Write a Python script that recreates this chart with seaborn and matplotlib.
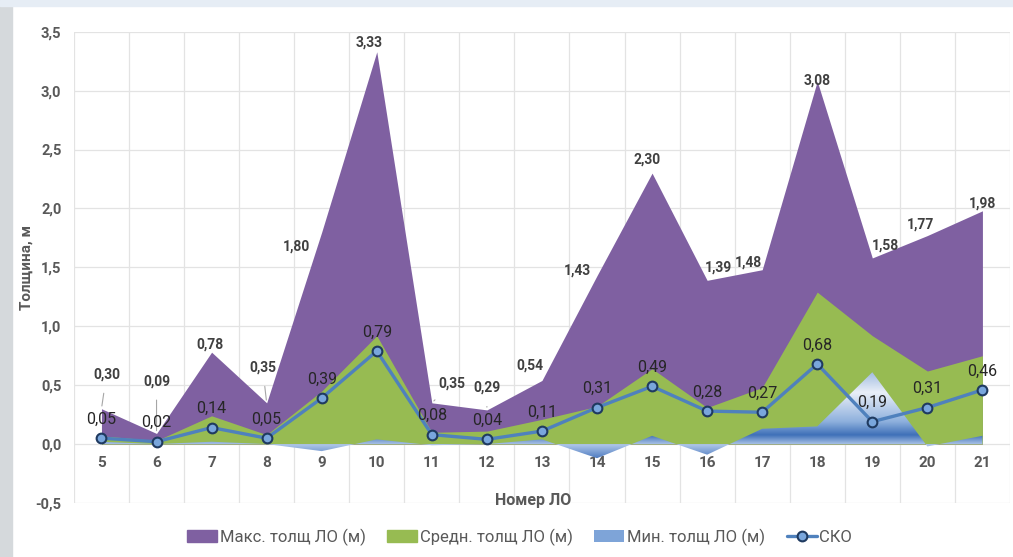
import numpy as np
import matplotlib
matplotlib.use("Agg")
import matplotlib.pyplot as plt
import seaborn as sns
import pandas as pd
from matplotlib.patches import Patch, Rectangle
from matplotlib.lines import Line2D
from matplotlib.colors import LinearSegmentedColormap

# данные по номерам ЛО
lo_num = [5, 6, 7, 8, 9, 10, 11, 12, 13, 14, 15, 16, 17, 18, 19, 20, 21]
max_thk = [0.30, 0.09, 0.78, 0.35, 1.80, 3.33, 0.35, 0.29, 0.54, 1.43, 2.30, 1.39, 1.48, 3.08, 1.58, 1.77, 1.98]
mean_thk = [0.07, 0.03, 0.24, 0.08, 0.45, 0.92, 0.10, 0.11, 0.21, 0.32, 0.64, 0.31, 0.48, 1.29, 0.92, 0.62, 0.75]
min_thk = [0.02, 0.00, 0.02, 0.00, -0.06, 0.04, -0.01, 0.00, 0.04, -0.12, 0.07, -0.09, 0.13, 0.15, 0.61, -0.02, 0.07]
sko = [0.05, 0.02, 0.14, 0.05, 0.39, 0.79, 0.08, 0.04, 0.11, 0.31, 0.49, 0.28, 0.27, 0.68, 0.19, 0.31, 0.46]
y_ticks = [-0.5, 0.0, 0.5, 1.0, 1.5, 2.0, 2.5, 3.0, 3.5]

# смещения подписей максимумов (в пикселях) и выноски
max_off = [(5, 34), (0, 52), (-2, 8), (-4, 35), (-25, -15), (-8, 9), (20, 19), (0, 22), (-12, 15),
           (-20, 5), (-5, 14), (11, 13), (-14, 7), (0, 1), (13, 12), (-7, 11), (0, 7)]
leader = [0, 1, 3, 6, 7]

c_max = "#7f60a1"
c_mean = "#97bb52"
c_line = "#4f81bd"
c_text = "#404040"
c_grid = "#e3e3e3"

sns.set_theme(style="white")
plt.rcParams["font.family"] = ["Roboto", "DejaVu Sans"]

df = pd.DataFrame({"lo": lo_num, "max": max_thk, "mean": mean_thk, "min": min_thk, "sko": sko})

fig = plt.figure(figsize=(10.13, 5.57), dpi=100)
ax = fig.add_axes([0.073, 0.097, 0.924, 0.846])

# фон слайда слева и сверху
fig.patches.append(Rectangle((0, 0), 0.012, 1, transform=fig.transFigure, color="#d5d9dc", zorder=0))
fig.patches.append(Rectangle((0, 0.99), 1, 0.01, transform=fig.transFigure, color="#e6edf5", zorder=0))

ax.fill_between(df["lo"], 0, df["max"], color=c_max, lw=0, zorder=2)
ax.fill_between(df["lo"], 0, df["mean"], color=c_mean, lw=0, zorder=3)

# мин. толщина — градиентная заливка
poly = ax.fill_between(df["lo"], 0, df["min"], color="none", lw=0, zorder=4)
cmap = LinearSegmentedColormap.from_list(
    "minblue",
    [(0.0, "#4a78bf"), (0.16, "#aec6e8"), (0.27, "#3f70b8"), (0.42, "#8eb0dd"),
     (0.75, "#e9eff8"), (1.0, "#9bb7de")])
grad = np.linspace(0, 1, 256).reshape(-1, 1)
im = ax.imshow(grad, cmap=cmap, origin="lower", aspect="auto",
               extent=[4.5, 21.5, min(min_thk) - 0.01, max(min_thk) + 0.01], zorder=4)
im.set_clip_path(poly.get_paths()[0], ax.transData)

sns.lineplot(data=df, x="lo", y="sko", ax=ax, color=c_line, lw=2.4, marker="o", markersize=7,
             markerfacecolor="#79a6dc", markeredgecolor="#1f3a60", markeredgewidth=1.5, zorder=5)

for i, x in enumerate(lo_num):
    dx, dy = max_off[i]
    arrow = None
    if i in leader:
        arrow = dict(arrowstyle="-", color="#a6a6a6", lw=0.8, shrinkA=6, shrinkB=2)
    ax.annotate(f"{max_thk[i]:.2f}".replace(".", ","), (x, max_thk[i]), xytext=(dx, dy),
                textcoords="offset pixels", ha="center", va="center", fontsize=10,
                fontweight="bold", color=c_text, arrowprops=arrow, zorder=6)
    ax.annotate(f"{sko[i]:.2f}".replace(".", ","), (x, sko[i]), xytext=(0, 19),
                textcoords="offset pixels", ha="center", va="center", fontsize=11.5,
                color="#262626", zorder=6)
    ax.text(x, 0.085, str(x), transform=ax.get_xaxis_transform(), ha="center", va="center",
            fontsize=11, fontweight="bold", color="#595959")

ax.set_xlim(4.5, 21.5)
ax.set_ylim(-0.5, 3.5)
ax.set_yticks(y_ticks)
ax.set_yticklabels([f"{v:.1f}".replace(".", ",") for v in y_ticks], fontsize=10.5,
                   fontweight="bold", color="#595959")
ax.set_xticks([v + 0.5 for v in [4] + lo_num])
ax.set_xticklabels([])
ax.tick_params(length=0, pad=9)
ax.grid(True, color=c_grid, lw=0.9, zorder=0)
ax.set_axisbelow(True)
for s in ax.spines.values():
    s.set_visible(False)
ax.set_xlabel("")
ax.set_ylabel("Толщина, м", fontsize=11, fontweight="bold", color="#595959", labelpad=1)
fig.text(0.526, 1 - 500 / 557, "Номер ЛО", ha="center", va="center", fontsize=11.5,
         fontweight="bold", color="#595959")

handles = [Patch(color=c_max), Patch(color=c_mean), Patch(facecolor="#7ea4d8", edgecolor="none"),
           Line2D([], [], color=c_line, lw=2.4, marker="o", markersize=7, markerfacecolor="#79a6dc",
                  markeredgecolor="#1f3a60", markeredgewidth=1.5)]
labels = ["Макс. толщ ЛО (м)", "Средн. толщ ЛО (м)", "Мин. толщ ЛО (м)", "СКО"]
fig.legend(handles, labels, loc="center", bbox_to_anchor=(0.513, 1 - 537 / 557), ncol=4,
           frameon=False, fontsize=12, labelcolor="#595959", handlelength=1.8,
           handleheight=0.7, columnspacing=1.3, handletextpad=0.15)

fig.savefig("out.png", dpi=100)
